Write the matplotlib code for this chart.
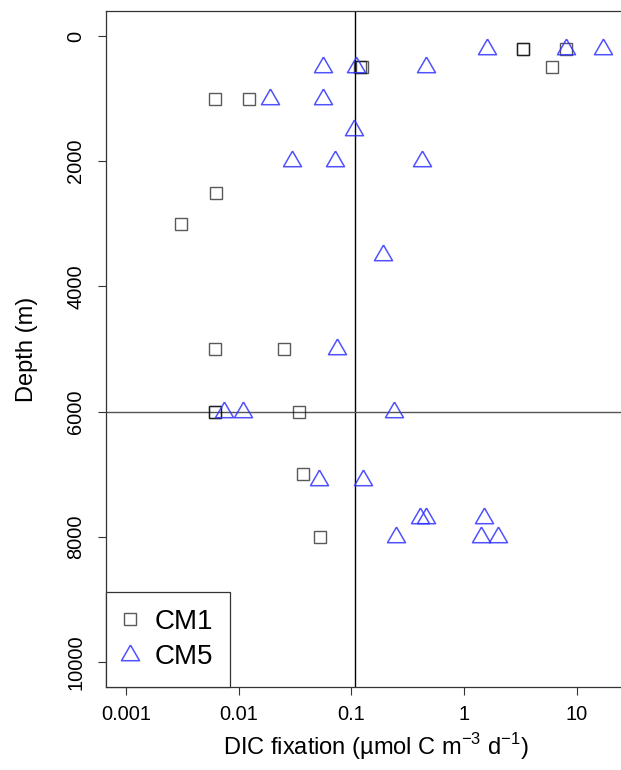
import matplotlib
matplotlib.use("Agg")
import matplotlib.pyplot as plt
import numpy as np

plt.rcParams['font.family'] = ['Liberation Sans', 'DejaVu Sans']
plt.rcParams['mathtext.fontset'] = 'custom'
plt.rcParams['mathtext.rm'] = 'Liberation Sans'

# CM1 (squares) - DIC fixation vs depth
cm1_x = [3.3, 3.3, 8.0, 0.12, 0.125, 6.0, 0.0062, 0.0124, 0.0063, 0.0031,
         0.0062, 0.025, 0.0062, 0.0062, 0.034, 0.037, 0.053]
cm1_depth = [200, 200, 200, 500, 500, 500, 1000, 1000, 2500, 3000,
             5000, 5000, 6000, 6000, 6000, 7000, 8000]

# CM5 (triangles)
cm5_x = [1.6, 8.1, 17.0, 0.056, 0.11, 0.46, 0.019, 0.056, 0.106,
         0.030, 0.072, 0.42, 0.19, 0.074, 0.0074, 0.011, 0.24,
         0.052, 0.126, 0.41, 0.46, 1.5, 0.25, 1.4, 2.0]
cm5_depth = [200, 200, 200, 500, 500, 500, 1000, 1000, 1500,
             2000, 2000, 2000, 3500, 5000, 6000, 6000, 6000,
             7100, 7100, 7700, 7700, 7700, 8000, 8000, 8000]

x_ticks = [0.001, 0.01, 0.1, 1, 10]
x_tick_labels = ["0.001", "0.01", "0.1", "1", "10"]
y_ticks = [0, 2000, 4000, 6000, 8000, 10000]

# R style triangle (pch = 2), centred on its centroid
tri = [(0, 1.555), (1.347, -0.778), (-1.347, -0.778), (0, 1.555)]

fig = plt.figure(figsize=(6.21, 7.70), dpi=100)
ax = fig.add_axes([106 / 621, 83 / 770, (645 - 106) / 621, (687 - 11) / 770])

sq_col = (0, 0, 0, 0.65)
tri_col = (0.2, 0.2, 1.0, 0.85)

ax.axvline(0.108, color='black', lw=1.0, zorder=1)
ax.axhline(6000, color='#555555', lw=1.0, zorder=1)

ax.plot(cm1_x, cm1_depth, linestyle='none', marker='s', ms=9,
        mfc='none', mec=sq_col, mew=1.0, label='CM1')
ax.plot(cm5_x, cm5_depth, linestyle='none', marker=tri, ms=15,
        mfc='none', mec=tri_col, mew=1.1, label='CM5')

ax.set_xscale('log')
ax.set_xlim(0.000665, 40.3)
ax.set_ylim(10400, -400)
ax.set_xticks(x_ticks)
ax.set_xticklabels(x_tick_labels)
ax.xaxis.set_minor_locator(matplotlib.ticker.NullLocator())
ax.set_yticks(y_ticks)
ax.set_yticklabels([str(v) for v in y_ticks], rotation=90, va='center')

ax.tick_params(axis='both', labelsize=14.4, length=6, width=0.8,
               color='#333333')
ax.tick_params(axis='x', pad=7)
ax.tick_params(axis='y', pad=9)
for s in ax.spines.values():
    s.set_linewidth(0.9)
    s.set_color('#333333')

ax.set_xlabel('DIC fixation (µmol C m$^{\\mathregular{\u22123}}$ d$^{\\mathregular{\u22121}}$)',
              fontsize=17, labelpad=5)
ax.set_ylabel('Depth (m)', fontsize=17, labelpad=20)

leg = ax.legend(loc='lower left', borderaxespad=0, fontsize=20,
                handlelength=0.5, handletextpad=0.65, borderpad=0.6,
                labelspacing=0.35, fancybox=False, framealpha=1,
                edgecolor='#333333')
leg.get_frame().set_linewidth(0.9)

fig.savefig('out.png', dpi=100)
